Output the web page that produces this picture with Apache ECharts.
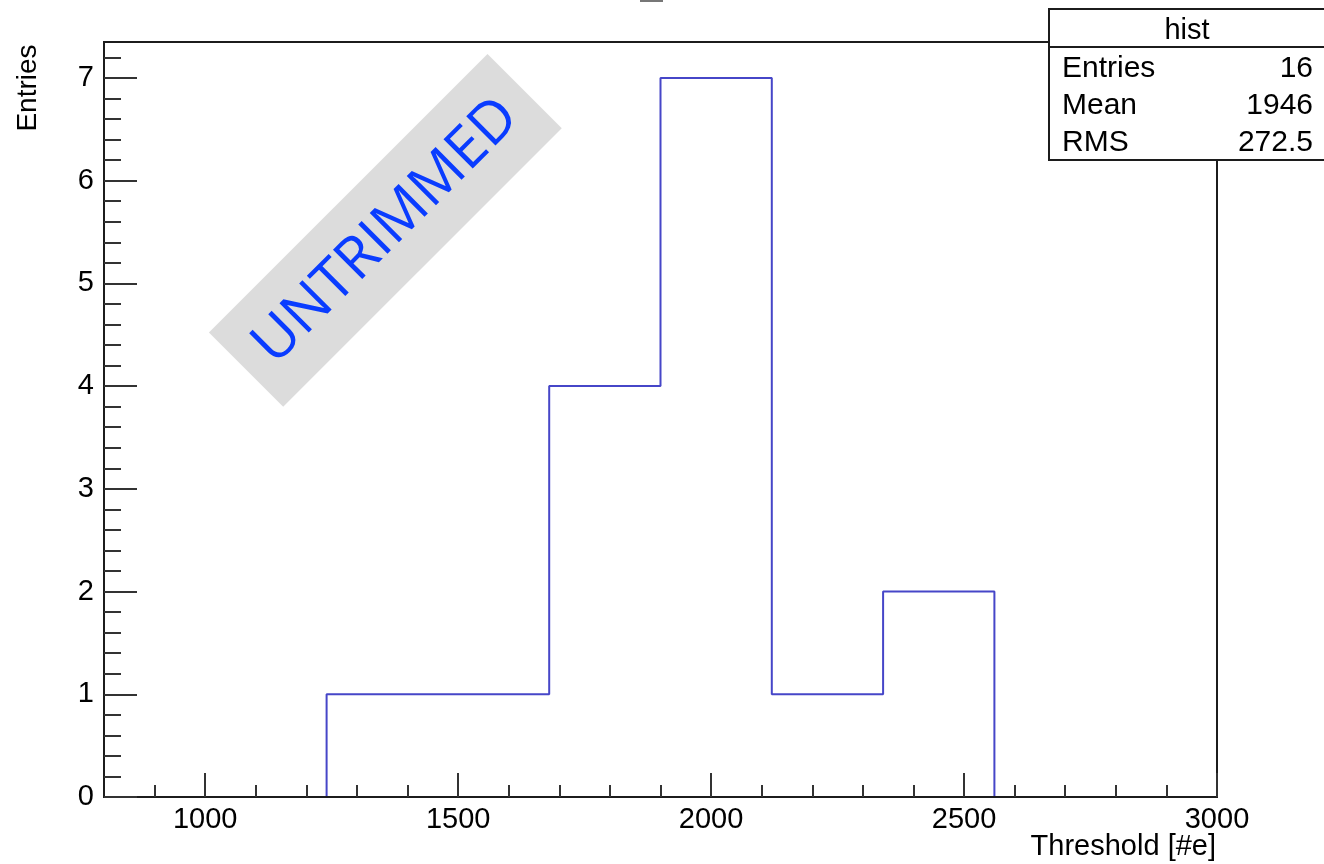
<!DOCTYPE html>
<html>
<head>
<meta charset="utf-8">
<script src="https://cdn.jsdelivr.net/npm/echarts@6/dist/echarts.min.js"></script>
<style>
  html, body { margin: 0; padding: 0; background: #ffffff; }
  #chart { width: 1324px; height: 864px; }
</style>
</head>
<body>
<div id="chart"></div>
<script>
// Histogram binning: 10 bins of width 220 over [800, 3000]
const binEdges = [800, 1020, 1240, 1460, 1680, 1900, 2120, 2340, 2560, 2780, 3000];
const binCounts = [0, 0, 1, 1, 4, 7, 1, 2, 0, 0];

// Axis tick values
const xMajorTicks = [1000, 1500, 2000, 2500, 3000];
const yMajorTicks = [0, 1, 2, 3, 4, 5, 6, 7];

// Statistics box
const statsTitle = 'hist';
const statsRows = [['Entries', '16'], ['Mean', '1946'], ['RMS', '272.5']];

const xName = 'Threshold [#e]';
const yName = 'Entries';
const stampText = 'UNTRIMMED';

const xMinorTicks = [];
for (let v = 900; v <= 2900; v += 100) xMinorTicks.push(v);
const yMinorTicks = [];
for (let k = 1; k <= 36; k++) yMinorTicks.push(Math.round(k * 2) / 10);

// Outline of the histogram: a flat segment across each bin, verticals at the edges
const histOutline = [];
binCounts.forEach((c, i) => {
  histOutline.push([binEdges[i], c]);
  histOutline.push([binEdges[i + 1], c]);
});

const FONT = 'Liberation Sans, Arial, Helvetica, sans-serif';
const AX = '#1c1c1c';
const plain = v => String(v);

const chart = echarts.init(document.getElementById('chart'), null, { renderer: 'canvas' });

chart.setOption({
  backgroundColor: '#ffffff',
  animation: false,
  grid: {
    left: 104, right: 107, top: 42, bottom: 67,
    containLabel: false, outerBoundsMode: 'none',
    show: true, borderColor: AX, borderWidth: 2, backgroundColor: 'transparent'
  },
  xAxis: [
    {
      type: 'value', min: 800, max: 3000, z: 5,
      axisLine: { show: true, lineStyle: { color: AX, width: 2 } },
      axisTick: { show: true, inside: true, length: 12, customValues: xMinorTicks, lineStyle: { color: '#333', width: 2 } },
      axisLabel: { show: false },
      splitLine: { show: false }
    },
    {
      type: 'value', min: 800, max: 3000, z: 5, position: 'bottom',
      axisLine: { show: false },
      axisTick: { show: true, inside: true, length: 24, customValues: xMajorTicks, lineStyle: { color: '#333', width: 2 } },
      axisLabel: { show: true, customValues: xMajorTicks, formatter: plain, fontSize: 29, fontFamily: FONT, color: '#000', margin: 8 },
      splitLine: { show: false }
    }
  ],
  yAxis: [
    {
      type: 'value', min: 0, max: 7.35, z: 5,
      axisLine: { show: true, lineStyle: { color: AX, width: 2 } },
      axisTick: { show: true, inside: true, length: 17, customValues: yMinorTicks, lineStyle: { color: '#333', width: 2 } },
      axisLabel: { show: false },
      splitLine: { show: false }
    },
    {
      type: 'value', min: 0, max: 7.35, z: 5, position: 'left',
      axisLine: { show: false },
      axisTick: { show: true, inside: true, length: 33, customValues: yMajorTicks, lineStyle: { color: '#333', width: 2 } },
      axisLabel: { show: true, customValues: yMajorTicks, formatter: plain, fontSize: 29, fontFamily: FONT, color: '#000', margin: 10 },
      splitLine: { show: false }
    }
  ],
  series: [
    {
      type: 'line', xAxisIndex: 0, yAxisIndex: 0, z: 1,
      data: histOutline, symbol: 'none', smooth: false,
      lineStyle: { color: '#4646c8', width: 2 }
    }
  ],
  graphic: [
    // axis titles
    {
      type: 'text', x: 1216, y: 847, z: 10,
      style: { text: xName, fontSize: 29, fontFamily: FONT, fill: '#000', align: 'right', verticalAlign: 'middle' }
    },
    {
      type: 'text', x: 28, y: 88, rotation: Math.PI / 2, z: 10,
      style: { text: yName, fontSize: 28, fontFamily: FONT, fill: '#000', align: 'center', verticalAlign: 'middle' }
    },
    // clipped title underline at the top edge
    { type: 'rect', shape: { x: 640, y: 0, width: 23, height: 2 }, style: { fill: '#777' }, z: 10 },
    // stamp banner
    {
      type: 'group', x: 385, y: 230, rotation: Math.PI / 4, z: 10,
      children: [
        { type: 'rect', shape: { x: -197, y: -52, width: 394, height: 105 }, style: { fill: '#dcdcdc' } },
        { type: 'text', x: 0, y: 2, style: { text: stampText, fontSize: 58, fontFamily: 'Open Sans, Noto Sans, sans-serif', fill: '#0a3cff', align: 'center', verticalAlign: 'middle' } }
      ]
    },
    // statistics box
    {
      type: 'group', x: 0, y: 0, z: 20,
      children: [
        { type: 'rect', shape: { x: 1049, y: 9, width: 290, height: 151 }, style: { fill: '#ffffff', stroke: AX, lineWidth: 2 } },
        { type: 'line', shape: { x1: 1049, y1: 47, x2: 1324, y2: 47 }, style: { stroke: AX, lineWidth: 2 } },
        { type: 'text', x: 1187, y: 31, style: { text: statsTitle, fontSize: 29, fontFamily: FONT, fill: '#000', align: 'center', verticalAlign: 'middle' } }
      ].concat(statsRows.flatMap((r, i) => [
        { type: 'text', x: 1062, y: 69 + i * 37, style: { text: r[0], fontSize: 30, fontFamily: FONT, fill: '#000', align: 'left', verticalAlign: 'middle' } },
        { type: 'text', x: 1313, y: 69 + i * 37, style: { text: r[1], fontSize: 30, fontFamily: FONT, fill: '#000', align: 'right', verticalAlign: 'middle' } }
      ]))
    }
  ]
});
</script>
</body>
</html>
